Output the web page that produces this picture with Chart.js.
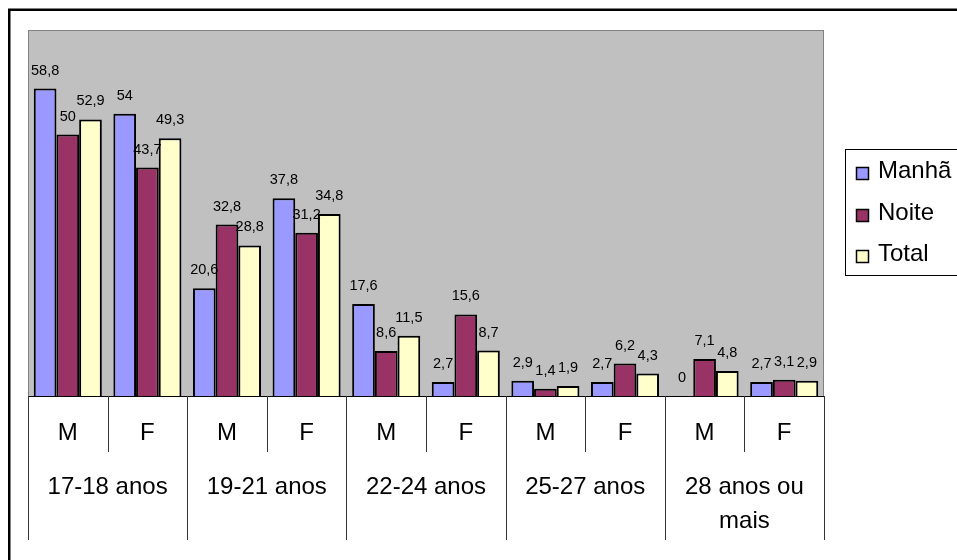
<!DOCTYPE html>
<html>
<head>
<meta charset="utf-8">
<script src="https://cdn.jsdelivr.net/npm/chart.js@4"></script>
<style>
html,body{margin:0;padding:0;background:#fff;}
canvas{display:block;}
</style>
</head>
<body>
<canvas id="c" width="957" height="560"></canvas>
<script>
const sexLabels = ['M','F','M','F','M','F','M','F','M','F'];
const groupLabels = [['17-18 anos'],['19-21 anos'],['22-24 anos'],['25-27 anos'],['28 anos ou','mais']];
const seriesNames = ['Manhã','Noite','Total'];
const manha = [58.8, 54, 20.6, 37.8, 17.6, 2.7, 2.9, 2.7, 0, 2.7];
const noite = [50, 43.7, 32.8, 31.2, 8.6, 15.6, 1.4, 6.2, 7.1, 3.1];
const total = [52.9, 49.3, 28.8, 34.8, 11.5, 8.7, 1.9, 4.3, 4.8, 2.9];
const colors = ['#9999FF','#993366','#FFFFCC'];

const FONT = '"Liberation Sans", Arial, sans-serif';

const decor = {
  id:'decor',
  beforeDraw(chart){
    const ctx = chart.ctx, a = chart.chartArea;
    ctx.save();
    ctx.fillStyle='#fff';
    ctx.fillRect(0,0,chart.width,chart.height);
    ctx.strokeStyle='#000';
    ctx.lineWidth=2.5;
    ctx.strokeRect(9.25,9.75,1000,1000);
    ctx.fillStyle='#C0C0C0';
    ctx.fillRect(a.left,a.top,a.right-a.left,a.bottom-a.top);
    ctx.strokeStyle='#808080';
    ctx.lineWidth=1;
    ctx.strokeRect(a.left+0.5,a.top+0.5,a.right-a.left-1,a.bottom-a.top);
    ctx.restore();
  },
  afterDatasetsDraw(chart){
    const ctx = chart.ctx, a = chart.chartArea;
    const xs = chart.scales.x;
    ctx.save();
    // baseline
    ctx.strokeStyle='#000';
    ctx.lineWidth=1;
    ctx.beginPath();
    ctx.moveTo(a.left, a.bottom+0.5); ctx.lineTo(a.right, a.bottom+0.5);
    ctx.stroke();
    const n = sexLabels.length;
    const w = (a.right-a.left)/n;
    ctx.strokeStyle='#333';
    for(let i=0;i<=n;i++){
      const x = Math.round(a.left + i*w)+0.5;
      const long = (i%2===0);
      ctx.beginPath();
      ctx.moveTo(x, a.bottom);
      ctx.lineTo(x, long ? a.bottom+144 : a.bottom+56);
      ctx.stroke();
    }
    ctx.fillStyle='#000';
    ctx.textAlign='center';
    ctx.textBaseline='middle';
    ctx.font = '24px '+FONT;
    for(let i=0;i<n;i++){
      ctx.fillText(sexLabels[i], xs.getPixelForValue(i), a.bottom+37);
    }
    for(let g=0; g<groupLabels.length; g++){
      const cx = a.left + (2*g+1)*w;
      groupLabels[g].forEach((t,k)=>{
        ctx.fillText(t, cx, a.bottom+91+k*34);
      });
    }
    // data labels
    ctx.font = '14.5px '+FONT;
    ctx.textBaseline='alphabetic';
    chart.data.datasets.forEach((ds,di)=>{
      const meta = chart.getDatasetMeta(di);
      meta.data.forEach((bar,i)=>{
        const v = ds.data[i];
        const s = String(v).replace('.',',');
        ctx.fillText(s, bar.x, bar.y-14);
      });
    });
    // legend
    ctx.strokeStyle='#000';
    ctx.lineWidth=1;
    ctx.fillStyle='#fff';
    ctx.fillRect(845.5,149.5,120,126);
    ctx.strokeRect(845.5,149.5,120,126);
    const ys=[170,212,253];
    ctx.font='24px '+FONT;
    ctx.textAlign='left';
    ctx.textBaseline='middle';
    chart.data.datasets.forEach((ds,di)=>{
      ctx.fillStyle=ds.backgroundColor;
      ctx.fillRect(856.5, ys[di]-2.5, 12, 12);
      ctx.strokeStyle='#000';
      ctx.lineWidth=1.5;
      ctx.strokeRect(856.5, ys[di]-2.5, 12, 12);
      ctx.fillStyle='#000';
      ctx.fillText(ds.label, 878, ys[di]+1);
    });
    ctx.restore();
  }
};

new Chart(document.getElementById('c'), {
  type:'bar',
  data:{
    labels: sexLabels,
    datasets:[
      {label:seriesNames[0], data:manha, backgroundColor:colors[0], borderColor:'#000', borderWidth:2},
      {label:seriesNames[1], data:noite, backgroundColor:colors[1], borderColor:'#000', borderWidth:2},
      {label:seriesNames[2], data:total, backgroundColor:colors[2], borderColor:'#000', borderWidth:2}
    ]
  },
  options:{
    responsive:false,
    animation:false,
    devicePixelRatio:1,
    layout:{padding:{left:28,right:133,top:30,bottom:164}},
    datasets:{bar:{categoryPercentage:0.855,barPercentage:1}},
    plugins:{legend:{display:false},tooltip:{enabled:false}},
    scales:{
      x:{display:false},
      y:{display:false,min:0,max:70}
    }
  },
  plugins:[decor]
});
</script>
</body>
</html>
